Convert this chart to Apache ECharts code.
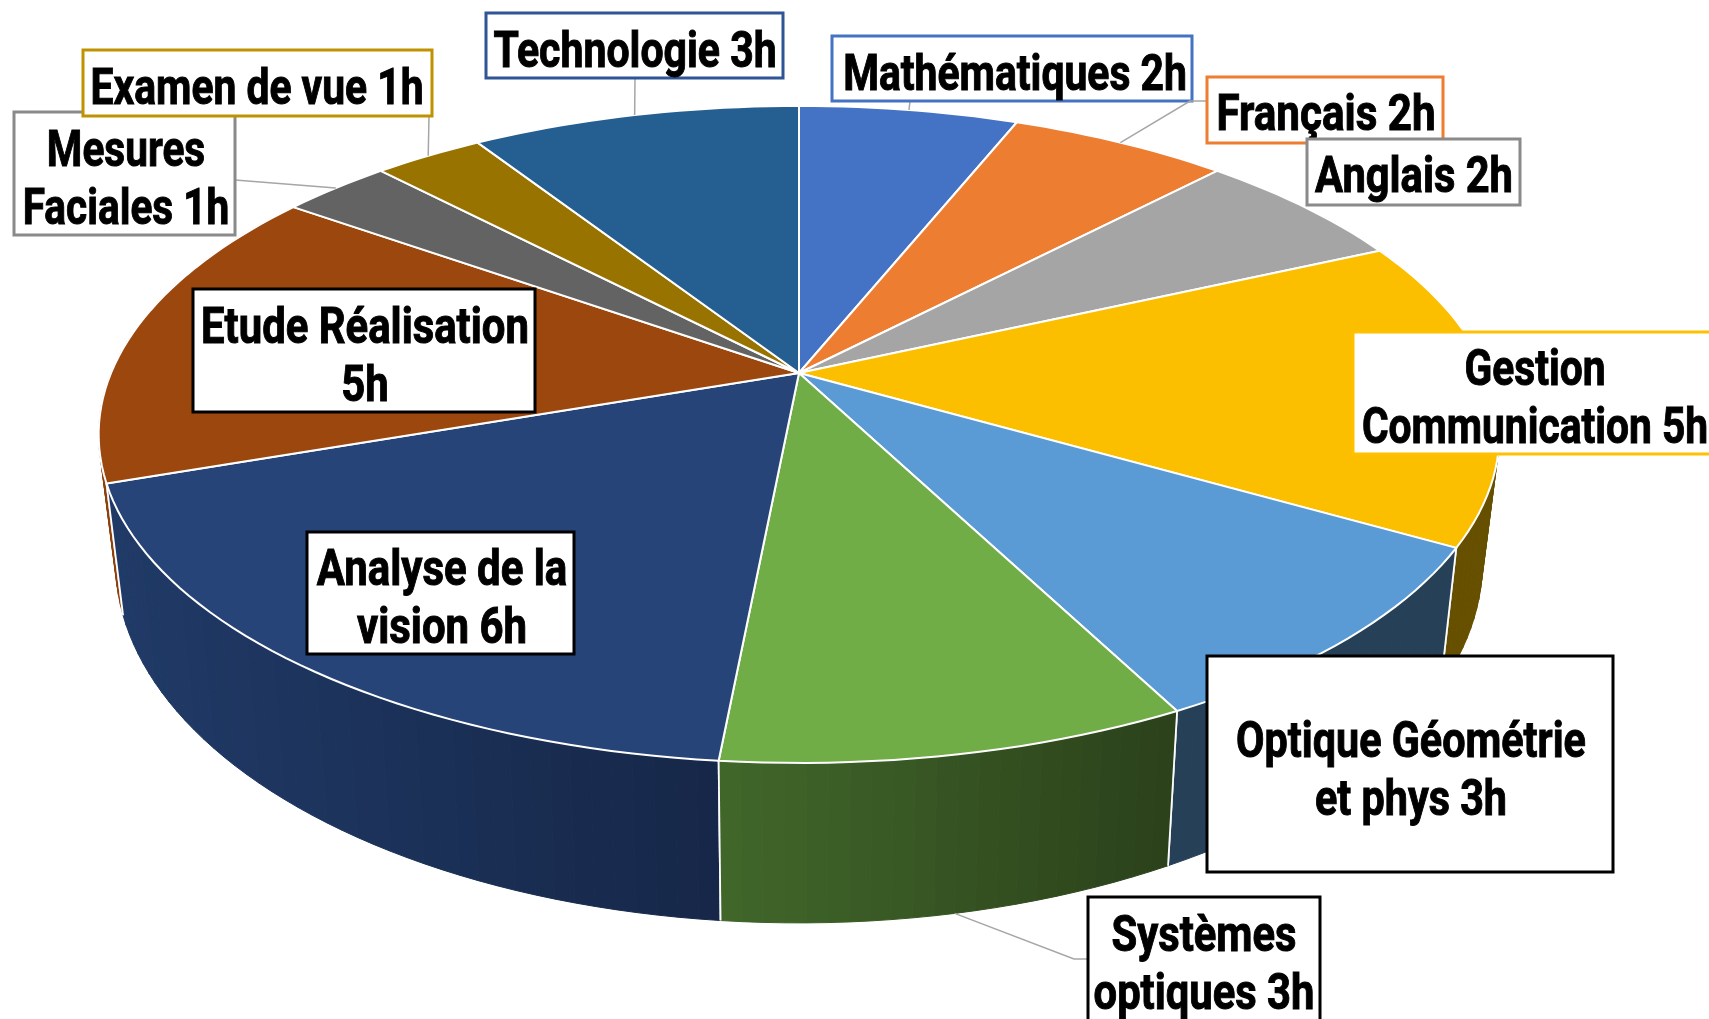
<!DOCTYPE html>
<html>
<head>
<meta charset="utf-8">
<style>html,body{margin:0;padding:0;background:#fff;overflow:hidden}#c{width:1709px;height:1019px}</style>
<script src="https://cdn.jsdelivr.net/npm/echarts@6/dist/echarts.min.js"></script>
</head>
<body>
<div id="c"></div>
<script>
// ---- data ----
const categories = ['Mathématiques','Français','Anglais','Gestion Communication','Optique Géométrie et phys','Systèmes optiques','Analyse de la vision','Etude Réalisation','Mesures Faciales','Examen de vue','Technologie'];
const hours = [2,2,2,5,3,3,6,5,1,1,3];
const labelLines = [['Mathématiques 2h'],['Français 2h'],['Anglais 2h'],['Gestion','Communication 5h'],['Optique Géométrie','et phys 3h'],['Systèmes','optiques 3h'],['Analyse de la','vision 6h'],['Etude Réalisation','5h'],['Mesures','Faciales 1h'],['Examen de vue 1h'],['Technologie 3h']];
// ---- colours ----
const topColors = ['#4472c4','#ed7d31','#a5a5a5','#fcbf00','#5b9bd5','#70ad47','#264478','#9b470d','#636363','#997300','#255e91'];
const wallLeft  = ['#2c4a80','#9a5120','#6b6b6b','#665000','#264058','#41672a','#203a67','#8e410c','#404040','#634b00','#183d5e'];
const wallRight = ['#2c4a80','#9a5120','#6b6b6b','#665000','#264058','#2b411b','#162748','#8e410c','#404040','#634b00','#183d5e'];
const borderColors = ['#4472c4','#ed7d31','#8a8a8a','#ffc000','#000000','#000000','#000000','#000000','#8a8a8a','#c09200','#2f5597'];
// ---- layout: label boxes [x0,y0,x1,y1], text centre [x,y], leader path after the rim point ----
const boxes = [[832,36,1192,101],[1207,77,1443,143],[1307,139,1520,205],[1353,332,1740,454],[1207,656,1613,872],[1088,897,1320,1040],[307,532,574,654],[193,289,535,412],[14,112,235,235],[83,50,432,116],[486,13,783,78]];
const textCentres = [[1015,77],[1326,117],[1414,179],[1535,401],[1411,773],[1204,967],[442,601],[365,359],[126,182],[257,91],[635,54]];
const leaderPaths = [[[910,101]],[[1190,101],[1207,101]],null,null,null,[[1074,959],[1088,959]],null,null,[[235,180]],[[429,116]],[[635,78]]];
const fontSize = 50, lineGap = 58, textScaleX = [0.817,0.843,0.833,0.814,0.826,0.835,0.839,0.837,0.812,0.816,0.82];

// ---- projection of the tilted disc ----
const discX = 799, discY = 373, fx = 688, fy = 317, k = 0.187;
const wallSX = 0.976, wallSY = 1.1, wallY0 = 494;
const total = hours.reduce((a,b)=>a+b,0);
const cum = [0]; hours.forEach(h=>cum.push(cum[cum.length-1]+h));
const angle = v => v/total*Math.PI*2;
function topPt(t){const d=1+k*Math.cos(t);return [discX+fx*Math.sin(t)/d, discY-fy*Math.cos(t)/d];}
function botPt(t){const d=1+k*Math.cos(t);return [discX+wallSX*fx*Math.sin(t)/d, wallY0-wallSY*fy*Math.cos(t)/d];}
function hex(c){return [1,3,5].map(i=>parseInt(c.substr(i,2),16));}
function mix(a,b,u){const A=hex(a),B=hex(b);return 'rgb('+A.map((v,i)=>Math.round(v+(B[i]-v)*u)).join(',')+')';}
const STEP = Math.PI/180*1.5;
function arc(a,b,fn){const pts=[];const n=Math.max(2,Math.ceil((b-a)/STEP));for(let i=0;i<=n;i++)pts.push(fn(a+(b-a)*i/n));return pts;}

function renderWall(params){
  const i=params.dataIndex, a=angle(cum[i]), b=angle(cum[i+1]);
  if(Math.cos(a)>0.3 && Math.cos(b)>0.3) return {type:'group',children:[]};
  const children=[], T=arc(a,b,topPt), B=arc(a,b,botPt);
  const xa=T[0][0], xb=T[T.length-1][0], lo=Math.min(xa,xb), hi=Math.max(xa,xb);
  const z=Math.round(-Math.cos((a+b)/2)*100)+200;
  for(let s=0;s<T.length-1;s++){
    const u=Math.min(1,Math.max(0,((T[s][0]+T[s+1][0])/2-lo)/(hi-lo||1)));
    const col=mix(wallLeft[i],wallRight[i],u);
    children.push({type:'polygon',z2:z,shape:{points:[T[s],T[s+1],B[s+1],B[s]]},style:{fill:col,stroke:col,lineWidth:1}});
  }
  [0,T.length-1].forEach(e=>{
    const t=e?b:a; if(Math.cos(t)>-0.2) return;
    children.push({type:'polyline',z2:z+1,shape:{points:[T[e],B[e]]},style:{stroke:'#fff',lineWidth:1.8,fill:null}});
  });
  return {type:'group',children};
}
function renderTop(params){
  const i=params.dataIndex, a=angle(cum[i]), b=angle(cum[i+1]);
  const pts=[[discX,discY]].concat(arc(a,b,topPt));
  return {type:'polygon',shape:{points:pts},style:{fill:topColors[i],stroke:'#fff',lineWidth:2,lineJoin:'round'}};
}
function renderLabel(params){
  const i=params.dataIndex, B=boxes[i], C=textCentres[i], children=[];
  const mid=angle((cum[i]+cum[i+1])/2), base=i*10;
  if(leaderPaths[i]){
    const start=Math.cos(mid)<-0.5?botPt(mid):topPt(mid);
    children.push({type:'polyline',z2:base,shape:{points:[start].concat(leaderPaths[i])},style:{stroke:'#a6a6a6',lineWidth:1.5,fill:null}});
  }
  children.push({type:'rect',z2:base+1,shape:{x:B[0],y:B[1],width:B[2]-B[0],height:B[3]-B[1]},style:{fill:'#fff',stroke:borderColors[i],lineWidth:3}});
  const L=labelLines[i];
  L.forEach((t,j)=>{
    children.push({type:'text',z2:base+2,x:C[0],y:C[1]+(j-(L.length-1)/2)*lineGap,scaleX:textScaleX[i],
      style:{text:t,fill:'#000',stroke:'#000',lineWidth:1,font:'bold '+fontSize+'px Roboto',align:'center',verticalAlign:'middle'}});
  });
  return {type:'group',children};
}
const rows = hours.map((h,i)=>({name:categories[i],value:[i,h]}));
const chart = echarts.init(document.getElementById('c'),null,{renderer:'canvas'});
chart.setOption({
  animation:false,
  backgroundColor:'#fff',
  series:[
    {type:'custom',coordinateSystem:'none',silent:true,z:1,renderItem:renderWall,data:rows},
    {type:'custom',coordinateSystem:'none',silent:true,z:2,renderItem:renderTop,data:rows},
    {type:'custom',coordinateSystem:'none',silent:true,z:3,renderItem:renderLabel,data:rows}
  ]
});
</script>
</body>
</html>
